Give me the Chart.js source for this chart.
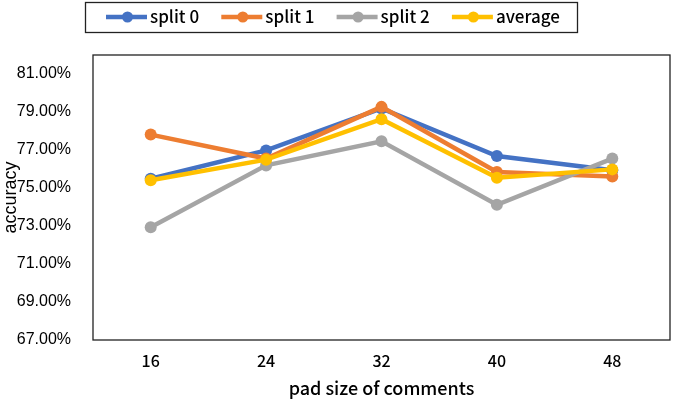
<!DOCTYPE html>
<html>
<head>
<meta charset="utf-8">
<script src="https://cdn.jsdelivr.net/npm/chart.js@4"></script>
<style>
  html, body { margin: 0; padding: 0; background: #fff; }
</style>
</head>
<body>
<canvas id="chart" width="676" height="401"></canvas>
<script>
// Data
const padSizes = ['16', '24', '32', '40', '48'];
const split0 = [75.49, 76.98, 79.19, 76.68, 75.93];
const split1 = [77.81, 76.55, 79.27, 75.84, 75.61];
const split2 = [72.93, 76.19, 77.46, 74.12, 76.55];
const average = [75.41, 76.49, 78.62, 75.54, 75.98];
const yTicks = [67, 69, 71, 73, 75, 77, 79, 81];

const seriesNames = ['split 0', 'split 1', 'split 2', 'average'];
const seriesColors = ['#4472C4', '#ED7D31', '#A5A5A5', '#FFC000'];
const seriesData = [split0, split1, split2, average];

const cjkFont = '"Noto Sans CJK SC", "Noto Sans", sans-serif';

// Boxed legend with line + marker samples, and frame around plot area
const boxLegend = {
    id: 'boxLegend',
    afterDraw(chart) {
        const ctx = chart.ctx;
        const a = chart.chartArea;
        ctx.save();
        ctx.strokeStyle = '#222';
        ctx.lineWidth = 1.3;
        ctx.strokeRect(a.left, a.top, a.right - a.left, a.bottom - a.top);
        ctx.strokeRect(85.5, 2.5, 492, 30);

        ctx.font = '500 17px ' + cjkFont;
        ctx.textBaseline = 'middle';
        ctx.textAlign = 'left';
        chart.data.datasets.forEach((ds, i) => {
            const x = 106 + i * 115.3;
            const y = 17;
            ctx.strokeStyle = ds.borderColor;
            ctx.lineWidth = 4.5;
            ctx.beginPath();
            ctx.moveTo(x, y);
            ctx.lineTo(x + 41, y);
            ctx.stroke();
            ctx.fillStyle = ds.borderColor;
            ctx.beginPath();
            ctx.arc(x + 21.5, y, 5.5, 0, Math.PI * 2);
            ctx.fill();
            ctx.fillStyle = '#000';
            ctx.fillText(ds.label, x + 44, y);
        });
        ctx.restore();
    }
};

const ctx = document.getElementById('chart').getContext('2d');
const chart = new Chart(ctx, {
    type: 'line',
    data: {
        labels: padSizes,
        datasets: seriesData.map((d, i) => ({
            label: seriesNames[i],
            data: d,
            borderColor: seriesColors[i],
            backgroundColor: seriesColors[i],
            borderWidth: 4.5,
            pointRadius: 6,
            pointHoverRadius: 6,
            pointBorderWidth: 0,
            tension: 0,
            order: 4 - i
        }))
    },
    options: {
        responsive: false,
        animation: false,
        layout: { padding: { top: 55, right: 3, left: 0, bottom: 0 } },
        plugins: {
            legend: { display: false },
            tooltip: { enabled: false }
        },
        scales: {
            x: {
                offset: true,
                grid: { display: false },
                border: { display: false },
                ticks: {
                    color: '#000',
                    padding: 3,
                    font: { family: cjkFont, size: 16, weight: '500' }
                },
                title: {
                    display: true,
                    text: 'pad size of comments',
                    color: '#000',
                    padding: { top: 0, bottom: 2 },
                    font: { family: cjkFont, size: 18, weight: '500' }
                },
                afterFit(scale) { scale.height = 61; }
            },
            y: {
                min: 67,
                max: 82,
                grid: { display: false },
                border: { display: false },
                afterBuildTicks(scale) {
                    scale.ticks = yTicks.map(v => ({ value: v }));
                },
                ticks: {
                    color: '#000',
                    padding: 14,
                    font: { family: '"Liberation Sans", Arial, sans-serif', size: 16 },
                    callback: v => v.toFixed(2) + '%'
                },
                title: {
                    display: true,
                    text: 'accuracy',
                    color: '#000',
                    padding: { top: 0, bottom: 0 },
                    font: { family: '"Liberation Sans", Arial, sans-serif', size: 18 }
                },
                afterFit(scale) { scale.width = 93; }
            }
        }
    },
    plugins: [boxLegend]
});
</script>
</body>
</html>
